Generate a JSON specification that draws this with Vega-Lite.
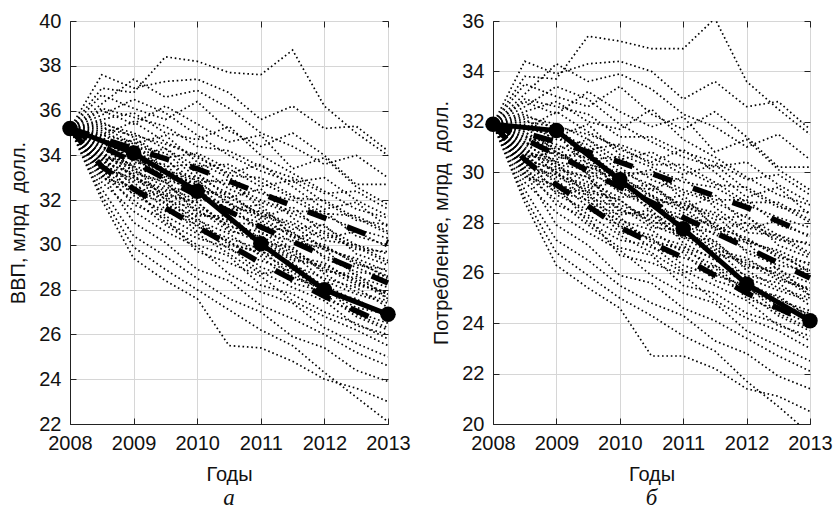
{
  "$schema": "https://vega.github.io/schema/vega-lite/v6.json",
  "padding": {"left": 8, "top": 10, "right": 0, "bottom": 0},
  "background": "white",
  "spacing": 20,
  "config": {
    "view": {"stroke": "#222", "strokeWidth": 1},
    "axis": {
      "labelFont": "Liberation Sans", "labelFontSize": 20, "labelColor": "#111",
      "titleFont": "Liberation Sans", "titleFontSize": 20, "titleFontWeight": "normal", "titleColor": "#111",
      "gridColor": "#d6d6d6", "gridWidth": 1, "tickColor": "#222", "domainColor": "#222",
      "tickSize": -6, "labelPadding": 15, "labelFlush": false, "labelOverlap": false, "labelBound": false
    },
    "title": {"font": "Liberation Serif", "fontStyle": "italic", "fontWeight": "normal", "fontSize": 23, "color": "#111"}
  },
  "datasets": {
    "simA": [
      {"i":1,"t":2008,"v":35.2},{"i":1,"t":2008.5,"v":37.0},{"i":1,"t":2009,"v":36.8},{"i":1,"t":2009.5,"v":38.4},{"i":1,"t":2010,"v":38.2},{"i":1,"t":2010.5,"v":37.7},{"i":1,"t":2011,"v":37.6},{"i":1,"t":2011.5,"v":38.7},{"i":1,"t":2012,"v":36.2},{"i":1,"t":2012.5,"v":35.0},{"i":1,"t":2013,"v":34.0},
      {"i":2,"t":2008,"v":35.2},{"i":2,"t":2008.5,"v":37.6},{"i":2,"t":2009,"v":37.0},{"i":2,"t":2009.5,"v":37.3},{"i":2,"t":2010,"v":37.4},{"i":2,"t":2010.5,"v":36.8},{"i":2,"t":2011,"v":35.6},{"i":2,"t":2011.5,"v":36.2},{"i":2,"t":2012,"v":35.2},{"i":2,"t":2012.5,"v":35.3},{"i":2,"t":2013,"v":34.2},
      {"i":3,"t":2008,"v":35.2},{"i":3,"t":2008.5,"v":36.3},{"i":3,"t":2009,"v":37.4},{"i":3,"t":2009.5,"v":36.6},{"i":3,"t":2010,"v":36.9},{"i":3,"t":2010.5,"v":36.1},{"i":3,"t":2011,"v":35.0},{"i":3,"t":2011.5,"v":34.4},{"i":3,"t":2012,"v":33.6},{"i":3,"t":2012.5,"v":34.0},{"i":3,"t":2013,"v":33.0},
      {"i":4,"t":2008,"v":35.2},{"i":4,"t":2008.5,"v":36.0},{"i":4,"t":2009,"v":35.4},{"i":4,"t":2009.5,"v":36.2},{"i":4,"t":2010,"v":35.4},{"i":4,"t":2010.5,"v":34.6},{"i":4,"t":2011,"v":34.9},{"i":4,"t":2011.5,"v":33.4},{"i":4,"t":2012,"v":33.9},{"i":4,"t":2012.5,"v":32.6},{"i":4,"t":2013,"v":31.8},
      {"i":5,"t":2008,"v":35.2},{"i":5,"t":2008.5,"v":35.6},{"i":5,"t":2009,"v":35.9},{"i":5,"t":2009.5,"v":35.0},{"i":5,"t":2010,"v":34.7},{"i":5,"t":2010.5,"v":35.3},{"i":5,"t":2011,"v":34.0},{"i":5,"t":2011.5,"v":33.2},{"i":5,"t":2012,"v":32.4},{"i":5,"t":2012.5,"v":31.6},{"i":5,"t":2013,"v":31.2},
      {"i":6,"t":2008,"v":35.2},{"i":6,"t":2008.5,"v":34.9},{"i":6,"t":2009,"v":35.5},{"i":6,"t":2009.5,"v":34.6},{"i":6,"t":2010,"v":33.9},{"i":6,"t":2010.5,"v":33.2},{"i":6,"t":2011,"v":33.6},{"i":6,"t":2011.5,"v":32.6},{"i":6,"t":2012,"v":31.6},{"i":6,"t":2012.5,"v":31.9},{"i":6,"t":2013,"v":30.8},
      {"i":7,"t":2008,"v":35.2},{"i":7,"t":2008.5,"v":35.3},{"i":7,"t":2009,"v":34.5},{"i":7,"t":2009.5,"v":34.9},{"i":7,"t":2010,"v":33.7},{"i":7,"t":2010.5,"v":33.0},{"i":7,"t":2011,"v":32.3},{"i":7,"t":2011.5,"v":32.0},{"i":7,"t":2012,"v":31.3},{"i":7,"t":2012.5,"v":30.7},{"i":7,"t":2013,"v":30.3},
      {"i":8,"t":2008,"v":35.2},{"i":8,"t":2008.5,"v":34.6},{"i":8,"t":2009,"v":34.2},{"i":8,"t":2009.5,"v":33.5},{"i":8,"t":2010,"v":33.6},{"i":8,"t":2010.5,"v":32.5},{"i":8,"t":2011,"v":31.9},{"i":8,"t":2011.5,"v":31.4},{"i":8,"t":2012,"v":30.8},{"i":8,"t":2012.5,"v":30.0},{"i":8,"t":2013,"v":29.6},
      {"i":9,"t":2008,"v":35.2},{"i":9,"t":2008.5,"v":34.3},{"i":9,"t":2009,"v":34.7},{"i":9,"t":2009.5,"v":33.8},{"i":9,"t":2010,"v":32.8},{"i":9,"t":2010.5,"v":32.9},{"i":9,"t":2011,"v":31.6},{"i":9,"t":2011.5,"v":30.7},{"i":9,"t":2012,"v":30.9},{"i":9,"t":2012.5,"v":29.6},{"i":9,"t":2013,"v":29.1},
      {"i":10,"t":2008,"v":35.2},{"i":10,"t":2008.5,"v":35.0},{"i":10,"t":2009,"v":33.9},{"i":10,"t":2009.5,"v":33.2},{"i":10,"t":2010,"v":32.9},{"i":10,"t":2010.5,"v":31.8},{"i":10,"t":2011,"v":31.3},{"i":10,"t":2011.5,"v":30.9},{"i":10,"t":2012,"v":29.8},{"i":10,"t":2012.5,"v":29.4},{"i":10,"t":2013,"v":28.8},
      {"i":11,"t":2008,"v":35.2},{"i":11,"t":2008.5,"v":34.0},{"i":11,"t":2009,"v":33.6},{"i":11,"t":2009.5,"v":33.9},{"i":11,"t":2010,"v":32.4},{"i":11,"t":2010.5,"v":31.6},{"i":11,"t":2011,"v":31.8},{"i":11,"t":2011.5,"v":30.4},{"i":11,"t":2012,"v":29.5},{"i":11,"t":2012.5,"v":29.0},{"i":11,"t":2013,"v":28.4},
      {"i":12,"t":2008,"v":35.2},{"i":12,"t":2008.5,"v":34.4},{"i":12,"t":2009,"v":33.3},{"i":12,"t":2009.5,"v":32.6},{"i":12,"t":2010,"v":32.0},{"i":12,"t":2010.5,"v":31.9},{"i":12,"t":2011,"v":30.5},{"i":12,"t":2011.5,"v":30.2},{"i":12,"t":2012,"v":29.8},{"i":12,"t":2012.5,"v":28.6},{"i":12,"t":2013,"v":28.1},
      {"i":13,"t":2008,"v":35.2},{"i":13,"t":2008.5,"v":33.8},{"i":13,"t":2009,"v":33.9},{"i":13,"t":2009.5,"v":32.9},{"i":13,"t":2010,"v":31.7},{"i":13,"t":2010.5,"v":31.0},{"i":13,"t":2011,"v":30.9},{"i":13,"t":2011.5,"v":29.8},{"i":13,"t":2012,"v":28.9},{"i":13,"t":2012.5,"v":28.5},{"i":13,"t":2013,"v":27.8},
      {"i":14,"t":2008,"v":35.2},{"i":14,"t":2008.5,"v":33.6},{"i":14,"t":2009,"v":32.9},{"i":14,"t":2009.5,"v":32.3},{"i":14,"t":2010,"v":31.9},{"i":14,"t":2010.5,"v":30.7},{"i":14,"t":2011,"v":30.1},{"i":14,"t":2011.5,"v":29.9},{"i":14,"t":2012,"v":28.7},{"i":14,"t":2012.5,"v":27.9},{"i":14,"t":2013,"v":27.5},
      {"i":15,"t":2008,"v":35.2},{"i":15,"t":2008.5,"v":34.1},{"i":15,"t":2009,"v":33.1},{"i":15,"t":2009.5,"v":31.8},{"i":15,"t":2010,"v":31.3},{"i":15,"t":2010.5,"v":31.3},{"i":15,"t":2011,"v":29.9},{"i":15,"t":2011.5,"v":29.1},{"i":15,"t":2012,"v":28.5},{"i":15,"t":2012.5,"v":28.1},{"i":15,"t":2013,"v":27.2},
      {"i":16,"t":2008,"v":35.2},{"i":16,"t":2008.5,"v":33.3},{"i":16,"t":2009,"v":32.5},{"i":16,"t":2009.5,"v":32.1},{"i":16,"t":2010,"v":30.8},{"i":16,"t":2010.5,"v":30.3},{"i":16,"t":2011,"v":29.8},{"i":16,"t":2011.5,"v":28.6},{"i":16,"t":2012,"v":28.0},{"i":16,"t":2012.5,"v":27.2},{"i":16,"t":2013,"v":26.9},
      {"i":17,"t":2008,"v":35.2},{"i":17,"t":2008.5,"v":33.9},{"i":17,"t":2009,"v":32.2},{"i":17,"t":2009.5,"v":31.5},{"i":17,"t":2010,"v":30.9},{"i":17,"t":2010.5,"v":29.8},{"i":17,"t":2011,"v":29.3},{"i":17,"t":2011.5,"v":28.8},{"i":17,"t":2012,"v":27.6},{"i":17,"t":2012.5,"v":27.0},{"i":17,"t":2013,"v":26.5},
      {"i":18,"t":2008,"v":35.2},{"i":18,"t":2008.5,"v":33.0},{"i":18,"t":2009,"v":32.6},{"i":18,"t":2009.5,"v":31.0},{"i":18,"t":2010,"v":30.3},{"i":18,"t":2010.5,"v":29.9},{"i":18,"t":2011,"v":28.8},{"i":18,"t":2011.5,"v":28.1},{"i":18,"t":2012,"v":27.5},{"i":18,"t":2012.5,"v":26.4},{"i":18,"t":2013,"v":26.0},
      {"i":19,"t":2008,"v":35.2},{"i":19,"t":2008.5,"v":33.4},{"i":19,"t":2009,"v":31.8},{"i":19,"t":2009.5,"v":31.2},{"i":19,"t":2010,"v":29.7},{"i":19,"t":2010.5,"v":29.2},{"i":19,"t":2011,"v":28.6},{"i":19,"t":2011.5,"v":27.5},{"i":19,"t":2012,"v":26.8},{"i":19,"t":2012.5,"v":26.2},{"i":19,"t":2013,"v":25.5},
      {"i":20,"t":2008,"v":35.2},{"i":20,"t":2008.5,"v":32.8},{"i":20,"t":2009,"v":31.5},{"i":20,"t":2009.5,"v":30.6},{"i":20,"t":2010,"v":29.9},{"i":20,"t":2010.5,"v":28.7},{"i":20,"t":2011,"v":27.9},{"i":20,"t":2011.5,"v":27.4},{"i":20,"t":2012,"v":26.3},{"i":20,"t":2012.5,"v":25.6},{"i":20,"t":2013,"v":25.0},
      {"i":21,"t":2008,"v":35.2},{"i":21,"t":2008.5,"v":33.2},{"i":21,"t":2009,"v":31.0},{"i":21,"t":2009.5,"v":30.1},{"i":21,"t":2010,"v":28.9},{"i":21,"t":2010.5,"v":28.4},{"i":21,"t":2011,"v":27.3},{"i":21,"t":2011.5,"v":26.7},{"i":21,"t":2012,"v":26.0},{"i":21,"t":2012.5,"v":25.2},{"i":21,"t":2013,"v":24.6},
      {"i":22,"t":2008,"v":35.2},{"i":22,"t":2008.5,"v":32.5},{"i":22,"t":2009,"v":30.4},{"i":22,"t":2009.5,"v":29.5},{"i":22,"t":2010,"v":28.5},{"i":22,"t":2010.5,"v":27.6},{"i":22,"t":2011,"v":27.0},{"i":22,"t":2011.5,"v":25.9},{"i":22,"t":2012,"v":25.4},{"i":22,"t":2012.5,"v":24.4},{"i":22,"t":2013,"v":23.9},
      {"i":23,"t":2008,"v":35.2},{"i":23,"t":2008.5,"v":32.2},{"i":23,"t":2009,"v":29.9},{"i":23,"t":2009.5,"v":28.9},{"i":23,"t":2010,"v":28.0},{"i":23,"t":2010.5,"v":27.1},{"i":23,"t":2011,"v":26.2},{"i":23,"t":2011.5,"v":25.5},{"i":23,"t":2012,"v":24.3},{"i":23,"t":2012.5,"v":23.2},{"i":23,"t":2013,"v":22.1},
      {"i":24,"t":2008,"v":35.2},{"i":24,"t":2008.5,"v":32.0},{"i":24,"t":2009,"v":29.4},{"i":24,"t":2009.5,"v":28.4},{"i":24,"t":2010,"v":27.6},{"i":24,"t":2010.5,"v":25.5},{"i":24,"t":2011,"v":25.4},{"i":24,"t":2011.5,"v":24.8},{"i":24,"t":2012,"v":24.0},{"i":24,"t":2012.5,"v":23.6},{"i":24,"t":2013,"v":23.0},
      {"i":25,"t":2008,"v":35.2},{"i":25,"t":2008.5,"v":36.7},{"i":25,"t":2009,"v":36.1},{"i":25,"t":2009.5,"v":35.6},{"i":25,"t":2010,"v":36.4},{"i":25,"t":2010.5,"v":35.1},{"i":25,"t":2011,"v":34.4},{"i":25,"t":2011.5,"v":35.0},{"i":25,"t":2012,"v":34.0},{"i":25,"t":2012.5,"v":32.7},{"i":25,"t":2013,"v":32.7},
      {"i":26,"t":2008,"v":35.2},{"i":26,"t":2008.5,"v":35.8},{"i":26,"t":2009,"v":36.5},{"i":26,"t":2009.5,"v":35.9},{"i":26,"t":2010,"v":34.9},{"i":26,"t":2010.5,"v":34.0},{"i":26,"t":2011,"v":33.3},{"i":26,"t":2011.5,"v":32.8},{"i":26,"t":2012,"v":33.0},{"i":26,"t":2012.5,"v":32.0},{"i":26,"t":2013,"v":31.3},
      {"i":27,"t":2008,"v":35.2},{"i":27,"t":2008.5,"v":34.8},{"i":27,"t":2009,"v":34.0},{"i":27,"t":2009.5,"v":34.3},{"i":27,"t":2010,"v":33.2},{"i":27,"t":2010.5,"v":32.1},{"i":27,"t":2011,"v":32.5},{"i":27,"t":2011.5,"v":31.2},{"i":27,"t":2012,"v":30.3},{"i":27,"t":2012.5,"v":30.6},{"i":27,"t":2013,"v":29.9},
      {"i":28,"t":2008,"v":35.2},{"i":28,"t":2008.5,"v":34.2},{"i":28,"t":2009,"v":33.0},{"i":28,"t":2009.5,"v":32.4},{"i":28,"t":2010,"v":32.6},{"i":28,"t":2010.5,"v":31.2},{"i":28,"t":2011,"v":30.3},{"i":28,"t":2011.5,"v":29.5},{"i":28,"t":2012,"v":29.2},{"i":28,"t":2012.5,"v":28.3},{"i":28,"t":2013,"v":27.8},
      {"i":29,"t":2008,"v":35.2},{"i":29,"t":2008.5,"v":33.5},{"i":29,"t":2009,"v":32.8},{"i":29,"t":2009.5,"v":31.6},{"i":29,"t":2010,"v":31.1},{"i":29,"t":2010.5,"v":30.5},{"i":29,"t":2011,"v":29.5},{"i":29,"t":2011.5,"v":28.3},{"i":29,"t":2012,"v":27.9},{"i":29,"t":2012.5,"v":27.6},{"i":29,"t":2013,"v":26.7},
      {"i":30,"t":2008,"v":35.2},{"i":30,"t":2008.5,"v":33.1},{"i":30,"t":2009,"v":32.0},{"i":30,"t":2009.5,"v":30.9},{"i":30,"t":2010,"v":30.0},{"i":30,"t":2010.5,"v":29.5},{"i":30,"t":2011,"v":28.2},{"i":30,"t":2011.5,"v":27.8},{"i":30,"t":2012,"v":27.0},{"i":30,"t":2012.5,"v":26.5},{"i":30,"t":2013,"v":25.8},
      {"i":31,"t":2008,"v":35.2},{"i":31,"t":2008.5,"v":34.7},{"i":31,"t":2009,"v":33.4},{"i":31,"t":2009.5,"v":33.1},{"i":31,"t":2010,"v":32.2},{"i":31,"t":2010.5,"v":31.4},{"i":31,"t":2011,"v":31.0},{"i":31,"t":2011.5,"v":30.1},{"i":31,"t":2012,"v":29.9},{"i":31,"t":2012.5,"v":29.2},{"i":31,"t":2013,"v":28.6},
      {"i":32,"t":2008,"v":35.2},{"i":32,"t":2008.5,"v":35.5},{"i":32,"t":2009,"v":34.8},{"i":32,"t":2009.5,"v":33.9},{"i":32,"t":2010,"v":34.1},{"i":32,"t":2010.5,"v":33.4},{"i":32,"t":2011,"v":32.6},{"i":32,"t":2011.5,"v":32.9},{"i":32,"t":2012,"v":31.9},{"i":32,"t":2012.5,"v":31.1},{"i":32,"t":2013,"v":30.9},
      {"i":33,"t":2008,"v":35.2},{"i":33,"t":2008.5,"v":33.7},{"i":33,"t":2009,"v":33.2},{"i":33,"t":2009.5,"v":32.8},{"i":33,"t":2010,"v":31.5},{"i":33,"t":2010.5,"v":30.9},{"i":33,"t":2011,"v":30.2},{"i":33,"t":2011.5,"v":29.4},{"i":33,"t":2012,"v":29.0},{"i":33,"t":2012.5,"v":28.2},{"i":33,"t":2013,"v":27.9},
      {"i":34,"t":2008,"v":35.2},{"i":34,"t":2008.5,"v":34.5},{"i":34,"t":2009,"v":34.1},{"i":34,"t":2009.5,"v":32.9},{"i":34,"t":2010,"v":32.5},{"i":34,"t":2010.5,"v":32.1},{"i":34,"t":2011,"v":31.4},{"i":34,"t":2011.5,"v":31.0},{"i":34,"t":2012,"v":30.2},{"i":34,"t":2012.5,"v":30.0},{"i":34,"t":2013,"v":29.3},
      {"i":35,"t":2008,"v":35.2},{"i":35,"t":2008.5,"v":33.9},{"i":35,"t":2009,"v":33.5},{"i":35,"t":2009.5,"v":32.0},{"i":35,"t":2010,"v":31.6},{"i":35,"t":2010.5,"v":30.6},{"i":35,"t":2011,"v":30.4},{"i":35,"t":2011.5,"v":29.6},{"i":35,"t":2012,"v":28.4},{"i":35,"t":2012.5,"v":27.8},{"i":35,"t":2013,"v":27.4},
      {"i":36,"t":2008,"v":35.2},{"i":36,"t":2008.5,"v":35.1},{"i":36,"t":2009,"v":34.4},{"i":36,"t":2009.5,"v":34.1},{"i":36,"t":2010,"v":33.0},{"i":36,"t":2010.5,"v":32.7},{"i":36,"t":2011,"v":32.0},{"i":36,"t":2011.5,"v":31.5},{"i":36,"t":2012,"v":31.5},{"i":36,"t":2012.5,"v":30.4},{"i":36,"t":2013,"v":30.0},
      {"i":37,"t":2008,"v":35.2},{"i":37,"t":2008.5,"v":34.0},{"i":37,"t":2009,"v":32.6},{"i":37,"t":2009.5,"v":32.2},{"i":37,"t":2010,"v":31.0},{"i":37,"t":2010.5,"v":30.1},{"i":37,"t":2011,"v":29.6},{"i":37,"t":2011.5,"v":28.9},{"i":37,"t":2012,"v":28.2},{"i":37,"t":2012.5,"v":27.5},{"i":37,"t":2013,"v":26.8},
      {"i":38,"t":2008,"v":35.2},{"i":38,"t":2008.5,"v":34.9},{"i":38,"t":2009,"v":34.6},{"i":38,"t":2009.5,"v":33.3},{"i":38,"t":2010,"v":33.0},{"i":38,"t":2010.5,"v":32.3},{"i":38,"t":2011,"v":31.2},{"i":38,"t":2011.5,"v":31.7},{"i":38,"t":2012,"v":30.5},{"i":38,"t":2012.5,"v":29.8},{"i":38,"t":2013,"v":29.7},
      {"i":39,"t":2008,"v":35.2},{"i":39,"t":2008.5,"v":33.4},{"i":39,"t":2009,"v":33.0},{"i":39,"t":2009.5,"v":32.5},{"i":39,"t":2010,"v":31.2},{"i":39,"t":2010.5,"v":30.0},{"i":39,"t":2011,"v":29.7},{"i":39,"t":2011.5,"v":29.2},{"i":39,"t":2012,"v":28.1},{"i":39,"t":2012.5,"v":27.4},{"i":39,"t":2013,"v":27.0},
      {"i":40,"t":2008,"v":35.2},{"i":40,"t":2008.5,"v":34.4},{"i":40,"t":2009,"v":33.8},{"i":40,"t":2009.5,"v":33.6},{"i":40,"t":2010,"v":32.2},{"i":40,"t":2010.5,"v":31.6},{"i":40,"t":2011,"v":31.5},{"i":40,"t":2011.5,"v":30.5},{"i":40,"t":2012,"v":29.9},{"i":40,"t":2012.5,"v":29.3},{"i":40,"t":2013,"v":28.5},
      {"i":41,"t":2008,"v":35.2},{"i":41,"t":2008.5,"v":35.4},{"i":41,"t":2009,"v":35.0},{"i":41,"t":2009.5,"v":34.3},{"i":41,"t":2010,"v":33.5},{"i":41,"t":2010.5,"v":33.6},{"i":41,"t":2011,"v":32.8},{"i":41,"t":2011.5,"v":32.1},{"i":41,"t":2012,"v":32.0},{"i":41,"t":2012.5,"v":31.2},{"i":41,"t":2013,"v":30.5},
      {"i":42,"t":2008,"v":35.2},{"i":42,"t":2008.5,"v":33.2},{"i":42,"t":2009,"v":32.3},{"i":42,"t":2009.5,"v":31.9},{"i":42,"t":2010,"v":30.6},{"i":42,"t":2010.5,"v":30.2},{"i":42,"t":2011,"v":29.0},{"i":42,"t":2011.5,"v":28.5},{"i":42,"t":2012,"v":28.1},{"i":42,"t":2012.5,"v":26.9},{"i":42,"t":2013,"v":26.3},
      {"i":43,"t":2008,"v":35.2},{"i":43,"t":2008.5,"v":34.3},{"i":43,"t":2009,"v":33.5},{"i":43,"t":2009.5,"v":33.2},{"i":43,"t":2010,"v":32.7},{"i":43,"t":2010.5,"v":31.5},{"i":43,"t":2011,"v":30.8},{"i":43,"t":2011.5,"v":30.6},{"i":43,"t":2012,"v":29.4},{"i":43,"t":2012.5,"v":28.8},{"i":43,"t":2013,"v":28.6},
      {"i":44,"t":2008,"v":35.2},{"i":44,"t":2008.5,"v":34.8},{"i":44,"t":2009,"v":33.7},{"i":44,"t":2009.5,"v":33.4},{"i":44,"t":2010,"v":32.4},{"i":44,"t":2010.5,"v":32.3},{"i":44,"t":2011,"v":31.3},{"i":44,"t":2011.5,"v":30.3},{"i":44,"t":2012,"v":30.6},{"i":44,"t":2012.5,"v":29.9},{"i":44,"t":2013,"v":29.2},
      {"i":45,"t":2008,"v":35.2},{"i":45,"t":2008.5,"v":33.8},{"i":45,"t":2009,"v":33.1},{"i":45,"t":2009.5,"v":32.2},{"i":45,"t":2010,"v":31.9},{"i":45,"t":2010.5,"v":30.8},{"i":45,"t":2011,"v":30.6},{"i":45,"t":2011.5,"v":29.7},{"i":45,"t":2012,"v":28.8},{"i":45,"t":2012.5,"v":28.7},{"i":45,"t":2013,"v":27.6},
      {"i":46,"t":2008,"v":35.2},{"i":46,"t":2008.5,"v":36.1},{"i":46,"t":2009,"v":35.7},{"i":46,"t":2009.5,"v":35.3},{"i":46,"t":2010,"v":34.4},{"i":46,"t":2010.5,"v":34.2},{"i":46,"t":2011,"v":33.5},{"i":46,"t":2011.5,"v":33.0},{"i":46,"t":2012,"v":32.3},{"i":46,"t":2012.5,"v":32.4},{"i":46,"t":2013,"v":31.6},
      {"i":47,"t":2008,"v":35.2},{"i":47,"t":2008.5,"v":33.6},{"i":47,"t":2009,"v":32.4},{"i":47,"t":2009.5,"v":31.3},{"i":47,"t":2010,"v":30.5},{"i":47,"t":2010.5,"v":29.6},{"i":47,"t":2011,"v":28.7},{"i":47,"t":2011.5,"v":28.9},{"i":47,"t":2012,"v":27.8},{"i":47,"t":2012.5,"v":26.8},{"i":47,"t":2013,"v":26.2},
      {"i":48,"t":2008,"v":35.2},{"i":48,"t":2008.5,"v":34.6},{"i":48,"t":2009,"v":33.9},{"i":48,"t":2009.5,"v":33.0},{"i":48,"t":2010,"v":32.8},{"i":48,"t":2010.5,"v":31.9},{"i":48,"t":2011,"v":31.1},{"i":48,"t":2011.5,"v":30.4},{"i":48,"t":2012,"v":30.0},{"i":48,"t":2012.5,"v":29.1},{"i":48,"t":2013,"v":28.9},
      {"i":49,"t":2008,"v":35.2},{"i":49,"t":2008.5,"v":35.2},{"i":49,"t":2009,"v":34.9},{"i":49,"t":2009.5,"v":34.5},{"i":49,"t":2010,"v":34.0},{"i":49,"t":2010.5,"v":33.1},{"i":49,"t":2011,"v":33.0},{"i":49,"t":2011.5,"v":32.2},{"i":49,"t":2012,"v":31.4},{"i":49,"t":2012.5,"v":31.3},{"i":49,"t":2013,"v":30.6},
      {"i":50,"t":2008,"v":35.2},{"i":50,"t":2008.5,"v":34.1},{"i":50,"t":2009,"v":33.3},{"i":50,"t":2009.5,"v":32.8},{"i":50,"t":2010,"v":31.4},{"i":50,"t":2010.5,"v":31.1},{"i":50,"t":2011,"v":30.1},{"i":50,"t":2011.5,"v":29.3},{"i":50,"t":2012,"v":29.1},{"i":50,"t":2012.5,"v":28.4},{"i":50,"t":2013,"v":27.6}
    ],
    "simB": [
      {"i":1,"t":2008,"v":31.9},{"i":1,"t":2008.5,"v":33.8},{"i":1,"t":2009,"v":33.7},{"i":1,"t":2009.5,"v":35.4},{"i":1,"t":2010,"v":35.2},{"i":1,"t":2010.5,"v":34.9},{"i":1,"t":2011,"v":34.9},{"i":1,"t":2011.5,"v":36.1},{"i":1,"t":2012,"v":33.6},{"i":1,"t":2012.5,"v":32.5},{"i":1,"t":2013,"v":31.5},
      {"i":2,"t":2008,"v":31.9},{"i":2,"t":2008.5,"v":34.4},{"i":2,"t":2009,"v":33.9},{"i":2,"t":2009.5,"v":34.3},{"i":2,"t":2010,"v":34.4},{"i":2,"t":2010.5,"v":34.0},{"i":2,"t":2011,"v":32.9},{"i":2,"t":2011.5,"v":33.6},{"i":2,"t":2012,"v":32.6},{"i":2,"t":2012.5,"v":32.8},{"i":2,"t":2013,"v":31.7},
      {"i":3,"t":2008,"v":31.9},{"i":3,"t":2008.5,"v":33.1},{"i":3,"t":2009,"v":34.3},{"i":3,"t":2009.5,"v":33.6},{"i":3,"t":2010,"v":33.9},{"i":3,"t":2010.5,"v":33.3},{"i":3,"t":2011,"v":32.3},{"i":3,"t":2011.5,"v":31.8},{"i":3,"t":2012,"v":31.0},{"i":3,"t":2012.5,"v":31.5},{"i":3,"t":2013,"v":30.5},
      {"i":4,"t":2008,"v":31.9},{"i":4,"t":2008.5,"v":32.8},{"i":4,"t":2009,"v":32.3},{"i":4,"t":2009.5,"v":33.2},{"i":4,"t":2010,"v":32.4},{"i":4,"t":2010.5,"v":31.8},{"i":4,"t":2011,"v":32.2},{"i":4,"t":2011.5,"v":30.8},{"i":4,"t":2012,"v":31.3},{"i":4,"t":2012.5,"v":30.1},{"i":4,"t":2013,"v":29.3},
      {"i":5,"t":2008,"v":31.9},{"i":5,"t":2008.5,"v":32.4},{"i":5,"t":2009,"v":32.8},{"i":5,"t":2009.5,"v":32.0},{"i":5,"t":2010,"v":31.7},{"i":5,"t":2010.5,"v":32.5},{"i":5,"t":2011,"v":31.3},{"i":5,"t":2011.5,"v":30.6},{"i":5,"t":2012,"v":29.8},{"i":5,"t":2012.5,"v":29.1},{"i":5,"t":2013,"v":28.7},
      {"i":6,"t":2008,"v":31.9},{"i":6,"t":2008.5,"v":31.7},{"i":6,"t":2009,"v":32.4},{"i":6,"t":2009.5,"v":31.6},{"i":6,"t":2010,"v":30.9},{"i":6,"t":2010.5,"v":30.4},{"i":6,"t":2011,"v":30.9},{"i":6,"t":2011.5,"v":30.0},{"i":6,"t":2012,"v":29.0},{"i":6,"t":2012.5,"v":29.4},{"i":6,"t":2013,"v":28.3},
      {"i":7,"t":2008,"v":31.9},{"i":7,"t":2008.5,"v":32.1},{"i":7,"t":2009,"v":31.4},{"i":7,"t":2009.5,"v":31.9},{"i":7,"t":2010,"v":30.7},{"i":7,"t":2010.5,"v":30.2},{"i":7,"t":2011,"v":29.6},{"i":7,"t":2011.5,"v":29.4},{"i":7,"t":2012,"v":28.7},{"i":7,"t":2012.5,"v":28.2},{"i":7,"t":2013,"v":27.8},
      {"i":8,"t":2008,"v":31.9},{"i":8,"t":2008.5,"v":31.4},{"i":8,"t":2009,"v":31.1},{"i":8,"t":2009.5,"v":30.5},{"i":8,"t":2010,"v":30.6},{"i":8,"t":2010.5,"v":29.7},{"i":8,"t":2011,"v":29.2},{"i":8,"t":2011.5,"v":28.8},{"i":8,"t":2012,"v":28.2},{"i":8,"t":2012.5,"v":27.5},{"i":8,"t":2013,"v":27.1},
      {"i":9,"t":2008,"v":31.9},{"i":9,"t":2008.5,"v":31.1},{"i":9,"t":2009,"v":31.6},{"i":9,"t":2009.5,"v":30.8},{"i":9,"t":2010,"v":29.8},{"i":9,"t":2010.5,"v":30.1},{"i":9,"t":2011,"v":28.9},{"i":9,"t":2011.5,"v":28.1},{"i":9,"t":2012,"v":28.3},{"i":9,"t":2012.5,"v":27.1},{"i":9,"t":2013,"v":26.6},
      {"i":10,"t":2008,"v":31.9},{"i":10,"t":2008.5,"v":31.8},{"i":10,"t":2009,"v":30.8},{"i":10,"t":2009.5,"v":30.2},{"i":10,"t":2010,"v":29.9},{"i":10,"t":2010.5,"v":29.0},{"i":10,"t":2011,"v":28.6},{"i":10,"t":2011.5,"v":28.3},{"i":10,"t":2012,"v":27.2},{"i":10,"t":2012.5,"v":26.9},{"i":10,"t":2013,"v":26.3},
      {"i":11,"t":2008,"v":31.9},{"i":11,"t":2008.5,"v":30.8},{"i":11,"t":2009,"v":30.5},{"i":11,"t":2009.5,"v":30.9},{"i":11,"t":2010,"v":29.4},{"i":11,"t":2010.5,"v":28.8},{"i":11,"t":2011,"v":29.1},{"i":11,"t":2011.5,"v":27.8},{"i":11,"t":2012,"v":26.9},{"i":11,"t":2012.5,"v":26.5},{"i":11,"t":2013,"v":25.9},
      {"i":12,"t":2008,"v":31.9},{"i":12,"t":2008.5,"v":31.2},{"i":12,"t":2009,"v":30.2},{"i":12,"t":2009.5,"v":29.6},{"i":12,"t":2010,"v":29.0},{"i":12,"t":2010.5,"v":29.1},{"i":12,"t":2011,"v":27.8},{"i":12,"t":2011.5,"v":27.6},{"i":12,"t":2012,"v":27.2},{"i":12,"t":2012.5,"v":26.1},{"i":12,"t":2013,"v":25.6},
      {"i":13,"t":2008,"v":31.9},{"i":13,"t":2008.5,"v":30.6},{"i":13,"t":2009,"v":30.8},{"i":13,"t":2009.5,"v":29.9},{"i":13,"t":2010,"v":28.7},{"i":13,"t":2010.5,"v":28.2},{"i":13,"t":2011,"v":28.2},{"i":13,"t":2011.5,"v":27.2},{"i":13,"t":2012,"v":26.3},{"i":13,"t":2012.5,"v":26.0},{"i":13,"t":2013,"v":25.3},
      {"i":14,"t":2008,"v":31.9},{"i":14,"t":2008.5,"v":30.4},{"i":14,"t":2009,"v":29.8},{"i":14,"t":2009.5,"v":29.3},{"i":14,"t":2010,"v":28.9},{"i":14,"t":2010.5,"v":27.9},{"i":14,"t":2011,"v":27.4},{"i":14,"t":2011.5,"v":27.3},{"i":14,"t":2012,"v":26.1},{"i":14,"t":2012.5,"v":25.4},{"i":14,"t":2013,"v":25.0},
      {"i":15,"t":2008,"v":31.9},{"i":15,"t":2008.5,"v":30.9},{"i":15,"t":2009,"v":30.0},{"i":15,"t":2009.5,"v":28.8},{"i":15,"t":2010,"v":28.3},{"i":15,"t":2010.5,"v":28.5},{"i":15,"t":2011,"v":27.2},{"i":15,"t":2011.5,"v":26.5},{"i":15,"t":2012,"v":25.9},{"i":15,"t":2012.5,"v":25.6},{"i":15,"t":2013,"v":24.7},
      {"i":16,"t":2008,"v":31.9},{"i":16,"t":2008.5,"v":30.1},{"i":16,"t":2009,"v":29.4},{"i":16,"t":2009.5,"v":29.1},{"i":16,"t":2010,"v":27.8},{"i":16,"t":2010.5,"v":27.5},{"i":16,"t":2011,"v":27.1},{"i":16,"t":2011.5,"v":26.0},{"i":16,"t":2012,"v":25.4},{"i":16,"t":2012.5,"v":24.7},{"i":16,"t":2013,"v":24.4},
      {"i":17,"t":2008,"v":31.9},{"i":17,"t":2008.5,"v":30.7},{"i":17,"t":2009,"v":29.1},{"i":17,"t":2009.5,"v":28.5},{"i":17,"t":2010,"v":27.9},{"i":17,"t":2010.5,"v":27.0},{"i":17,"t":2011,"v":26.6},{"i":17,"t":2011.5,"v":26.2},{"i":17,"t":2012,"v":25.0},{"i":17,"t":2012.5,"v":24.5},{"i":17,"t":2013,"v":24.0},
      {"i":18,"t":2008,"v":31.9},{"i":18,"t":2008.5,"v":29.8},{"i":18,"t":2009,"v":29.5},{"i":18,"t":2009.5,"v":28.0},{"i":18,"t":2010,"v":27.3},{"i":18,"t":2010.5,"v":27.1},{"i":18,"t":2011,"v":26.1},{"i":18,"t":2011.5,"v":25.5},{"i":18,"t":2012,"v":24.9},{"i":18,"t":2012.5,"v":23.9},{"i":18,"t":2013,"v":23.5},
      {"i":19,"t":2008,"v":31.9},{"i":19,"t":2008.5,"v":30.2},{"i":19,"t":2009,"v":28.7},{"i":19,"t":2009.5,"v":28.2},{"i":19,"t":2010,"v":26.7},{"i":19,"t":2010.5,"v":26.4},{"i":19,"t":2011,"v":25.9},{"i":19,"t":2011.5,"v":24.9},{"i":19,"t":2012,"v":24.2},{"i":19,"t":2012.5,"v":23.7},{"i":19,"t":2013,"v":23.0},
      {"i":20,"t":2008,"v":31.9},{"i":20,"t":2008.5,"v":29.6},{"i":20,"t":2009,"v":28.4},{"i":20,"t":2009.5,"v":27.6},{"i":20,"t":2010,"v":26.9},{"i":20,"t":2010.5,"v":25.9},{"i":20,"t":2011,"v":25.2},{"i":20,"t":2011.5,"v":24.8},{"i":20,"t":2012,"v":23.7},{"i":20,"t":2012.5,"v":23.1},{"i":20,"t":2013,"v":22.5},
      {"i":21,"t":2008,"v":31.9},{"i":21,"t":2008.5,"v":30.0},{"i":21,"t":2009,"v":27.9},{"i":21,"t":2009.5,"v":27.1},{"i":21,"t":2010,"v":25.9},{"i":21,"t":2010.5,"v":25.6},{"i":21,"t":2011,"v":24.6},{"i":21,"t":2011.5,"v":24.1},{"i":21,"t":2012,"v":23.4},{"i":21,"t":2012.5,"v":22.7},{"i":21,"t":2013,"v":22.1},
      {"i":22,"t":2008,"v":31.9},{"i":22,"t":2008.5,"v":29.3},{"i":22,"t":2009,"v":27.3},{"i":22,"t":2009.5,"v":26.5},{"i":22,"t":2010,"v":25.5},{"i":22,"t":2010.5,"v":24.8},{"i":22,"t":2011,"v":24.3},{"i":22,"t":2011.5,"v":23.3},{"i":22,"t":2012,"v":22.8},{"i":22,"t":2012.5,"v":21.9},{"i":22,"t":2013,"v":21.4},
      {"i":23,"t":2008,"v":31.9},{"i":23,"t":2008.5,"v":29.0},{"i":23,"t":2009,"v":26.8},{"i":23,"t":2009.5,"v":25.9},{"i":23,"t":2010,"v":25.0},{"i":23,"t":2010.5,"v":24.3},{"i":23,"t":2011,"v":23.5},{"i":23,"t":2011.5,"v":22.9},{"i":23,"t":2012,"v":21.7},{"i":23,"t":2012.5,"v":20.7},{"i":23,"t":2013,"v":19.6},
      {"i":24,"t":2008,"v":31.9},{"i":24,"t":2008.5,"v":28.8},{"i":24,"t":2009,"v":26.3},{"i":24,"t":2009.5,"v":25.4},{"i":24,"t":2010,"v":24.6},{"i":24,"t":2010.5,"v":22.7},{"i":24,"t":2011,"v":22.7},{"i":24,"t":2011.5,"v":22.2},{"i":24,"t":2012,"v":21.4},{"i":24,"t":2012.5,"v":21.1},{"i":24,"t":2013,"v":20.5},
      {"i":25,"t":2008,"v":31.9},{"i":25,"t":2008.5,"v":33.5},{"i":25,"t":2009,"v":33.0},{"i":25,"t":2009.5,"v":32.6},{"i":25,"t":2010,"v":33.4},{"i":25,"t":2010.5,"v":32.3},{"i":25,"t":2011,"v":31.7},{"i":25,"t":2011.5,"v":32.4},{"i":25,"t":2012,"v":31.4},{"i":25,"t":2012.5,"v":30.2},{"i":25,"t":2013,"v":30.2},
      {"i":26,"t":2008,"v":31.9},{"i":26,"t":2008.5,"v":32.6},{"i":26,"t":2009,"v":33.4},{"i":26,"t":2009.5,"v":32.9},{"i":26,"t":2010,"v":31.9},{"i":26,"t":2010.5,"v":31.2},{"i":26,"t":2011,"v":30.6},{"i":26,"t":2011.5,"v":30.2},{"i":26,"t":2012,"v":30.4},{"i":26,"t":2012.5,"v":29.5},{"i":26,"t":2013,"v":28.8},
      {"i":27,"t":2008,"v":31.9},{"i":27,"t":2008.5,"v":31.6},{"i":27,"t":2009,"v":30.9},{"i":27,"t":2009.5,"v":31.3},{"i":27,"t":2010,"v":30.2},{"i":27,"t":2010.5,"v":29.3},{"i":27,"t":2011,"v":29.8},{"i":27,"t":2011.5,"v":28.6},{"i":27,"t":2012,"v":27.7},{"i":27,"t":2012.5,"v":28.1},{"i":27,"t":2013,"v":27.4},
      {"i":28,"t":2008,"v":31.9},{"i":28,"t":2008.5,"v":31.0},{"i":28,"t":2009,"v":29.9},{"i":28,"t":2009.5,"v":29.4},{"i":28,"t":2010,"v":29.6},{"i":28,"t":2010.5,"v":28.4},{"i":28,"t":2011,"v":27.6},{"i":28,"t":2011.5,"v":26.9},{"i":28,"t":2012,"v":26.6},{"i":28,"t":2012.5,"v":25.8},{"i":28,"t":2013,"v":25.3},
      {"i":29,"t":2008,"v":31.9},{"i":29,"t":2008.5,"v":30.3},{"i":29,"t":2009,"v":29.7},{"i":29,"t":2009.5,"v":28.6},{"i":29,"t":2010,"v":28.1},{"i":29,"t":2010.5,"v":27.7},{"i":29,"t":2011,"v":26.8},{"i":29,"t":2011.5,"v":25.7},{"i":29,"t":2012,"v":25.3},{"i":29,"t":2012.5,"v":25.1},{"i":29,"t":2013,"v":24.2},
      {"i":30,"t":2008,"v":31.9},{"i":30,"t":2008.5,"v":29.9},{"i":30,"t":2009,"v":28.9},{"i":30,"t":2009.5,"v":27.9},{"i":30,"t":2010,"v":27.0},{"i":30,"t":2010.5,"v":26.7},{"i":30,"t":2011,"v":25.5},{"i":30,"t":2011.5,"v":25.2},{"i":30,"t":2012,"v":24.4},{"i":30,"t":2012.5,"v":24.0},{"i":30,"t":2013,"v":23.3},
      {"i":31,"t":2008,"v":31.9},{"i":31,"t":2008.5,"v":31.5},{"i":31,"t":2009,"v":30.3},{"i":31,"t":2009.5,"v":30.1},{"i":31,"t":2010,"v":29.2},{"i":31,"t":2010.5,"v":28.6},{"i":31,"t":2011,"v":28.3},{"i":31,"t":2011.5,"v":27.5},{"i":31,"t":2012,"v":27.3},{"i":31,"t":2012.5,"v":26.7},{"i":31,"t":2013,"v":26.1},
      {"i":32,"t":2008,"v":31.9},{"i":32,"t":2008.5,"v":32.3},{"i":32,"t":2009,"v":31.7},{"i":32,"t":2009.5,"v":30.9},{"i":32,"t":2010,"v":31.1},{"i":32,"t":2010.5,"v":30.6},{"i":32,"t":2011,"v":29.9},{"i":32,"t":2011.5,"v":30.3},{"i":32,"t":2012,"v":29.3},{"i":32,"t":2012.5,"v":28.6},{"i":32,"t":2013,"v":28.4},
      {"i":33,"t":2008,"v":31.9},{"i":33,"t":2008.5,"v":30.5},{"i":33,"t":2009,"v":30.1},{"i":33,"t":2009.5,"v":29.8},{"i":33,"t":2010,"v":28.5},{"i":33,"t":2010.5,"v":28.1},{"i":33,"t":2011,"v":27.5},{"i":33,"t":2011.5,"v":26.8},{"i":33,"t":2012,"v":26.4},{"i":33,"t":2012.5,"v":25.7},{"i":33,"t":2013,"v":25.4},
      {"i":34,"t":2008,"v":31.9},{"i":34,"t":2008.5,"v":31.3},{"i":34,"t":2009,"v":31.0},{"i":34,"t":2009.5,"v":29.9},{"i":34,"t":2010,"v":29.5},{"i":34,"t":2010.5,"v":29.3},{"i":34,"t":2011,"v":28.7},{"i":34,"t":2011.5,"v":28.4},{"i":34,"t":2012,"v":27.6},{"i":34,"t":2012.5,"v":27.5},{"i":34,"t":2013,"v":26.8},
      {"i":35,"t":2008,"v":31.9},{"i":35,"t":2008.5,"v":30.7},{"i":35,"t":2009,"v":30.4},{"i":35,"t":2009.5,"v":29.0},{"i":35,"t":2010,"v":28.6},{"i":35,"t":2010.5,"v":27.8},{"i":35,"t":2011,"v":27.7},{"i":35,"t":2011.5,"v":27.0},{"i":35,"t":2012,"v":25.8},{"i":35,"t":2012.5,"v":25.3},{"i":35,"t":2013,"v":24.9},
      {"i":36,"t":2008,"v":31.9},{"i":36,"t":2008.5,"v":31.9},{"i":36,"t":2009,"v":31.3},{"i":36,"t":2009.5,"v":31.1},{"i":36,"t":2010,"v":30.0},{"i":36,"t":2010.5,"v":29.9},{"i":36,"t":2011,"v":29.3},{"i":36,"t":2011.5,"v":28.9},{"i":36,"t":2012,"v":28.9},{"i":36,"t":2012.5,"v":27.9},{"i":36,"t":2013,"v":27.5},
      {"i":37,"t":2008,"v":31.9},{"i":37,"t":2008.5,"v":30.8},{"i":37,"t":2009,"v":29.5},{"i":37,"t":2009.5,"v":29.2},{"i":37,"t":2010,"v":28.0},{"i":37,"t":2010.5,"v":27.3},{"i":37,"t":2011,"v":26.9},{"i":37,"t":2011.5,"v":26.3},{"i":37,"t":2012,"v":25.6},{"i":37,"t":2012.5,"v":25.0},{"i":37,"t":2013,"v":24.3},
      {"i":38,"t":2008,"v":31.9},{"i":38,"t":2008.5,"v":31.7},{"i":38,"t":2009,"v":31.5},{"i":38,"t":2009.5,"v":30.3},{"i":38,"t":2010,"v":30.0},{"i":38,"t":2010.5,"v":29.5},{"i":38,"t":2011,"v":28.5},{"i":38,"t":2011.5,"v":29.1},{"i":38,"t":2012,"v":27.9},{"i":38,"t":2012.5,"v":27.3},{"i":38,"t":2013,"v":27.2},
      {"i":39,"t":2008,"v":31.9},{"i":39,"t":2008.5,"v":30.2},{"i":39,"t":2009,"v":29.9},{"i":39,"t":2009.5,"v":29.5},{"i":39,"t":2010,"v":28.2},{"i":39,"t":2010.5,"v":27.2},{"i":39,"t":2011,"v":27.0},{"i":39,"t":2011.5,"v":26.6},{"i":39,"t":2012,"v":25.5},{"i":39,"t":2012.5,"v":24.9},{"i":39,"t":2013,"v":24.5},
      {"i":40,"t":2008,"v":31.9},{"i":40,"t":2008.5,"v":31.2},{"i":40,"t":2009,"v":30.7},{"i":40,"t":2009.5,"v":30.6},{"i":40,"t":2010,"v":29.2},{"i":40,"t":2010.5,"v":28.8},{"i":40,"t":2011,"v":28.8},{"i":40,"t":2011.5,"v":27.9},{"i":40,"t":2012,"v":27.3},{"i":40,"t":2012.5,"v":26.8},{"i":40,"t":2013,"v":26.0},
      {"i":41,"t":2008,"v":31.9},{"i":41,"t":2008.5,"v":32.2},{"i":41,"t":2009,"v":31.9},{"i":41,"t":2009.5,"v":31.3},{"i":41,"t":2010,"v":30.5},{"i":41,"t":2010.5,"v":30.8},{"i":41,"t":2011,"v":30.1},{"i":41,"t":2011.5,"v":29.5},{"i":41,"t":2012,"v":29.4},{"i":41,"t":2012.5,"v":28.7},{"i":41,"t":2013,"v":28.0},
      {"i":42,"t":2008,"v":31.9},{"i":42,"t":2008.5,"v":30.0},{"i":42,"t":2009,"v":29.2},{"i":42,"t":2009.5,"v":28.9},{"i":42,"t":2010,"v":27.6},{"i":42,"t":2010.5,"v":27.4},{"i":42,"t":2011,"v":26.3},{"i":42,"t":2011.5,"v":25.9},{"i":42,"t":2012,"v":25.5},{"i":42,"t":2012.5,"v":24.4},{"i":42,"t":2013,"v":23.8},
      {"i":43,"t":2008,"v":31.9},{"i":43,"t":2008.5,"v":31.1},{"i":43,"t":2009,"v":30.4},{"i":43,"t":2009.5,"v":30.2},{"i":43,"t":2010,"v":29.7},{"i":43,"t":2010.5,"v":28.7},{"i":43,"t":2011,"v":28.1},{"i":43,"t":2011.5,"v":28.0},{"i":43,"t":2012,"v":26.8},{"i":43,"t":2012.5,"v":26.3},{"i":43,"t":2013,"v":26.1},
      {"i":44,"t":2008,"v":31.9},{"i":44,"t":2008.5,"v":31.6},{"i":44,"t":2009,"v":30.6},{"i":44,"t":2009.5,"v":30.4},{"i":44,"t":2010,"v":29.4},{"i":44,"t":2010.5,"v":29.5},{"i":44,"t":2011,"v":28.6},{"i":44,"t":2011.5,"v":27.7},{"i":44,"t":2012,"v":28.0},{"i":44,"t":2012.5,"v":27.4},{"i":44,"t":2013,"v":26.7},
      {"i":45,"t":2008,"v":31.9},{"i":45,"t":2008.5,"v":30.6},{"i":45,"t":2009,"v":30.0},{"i":45,"t":2009.5,"v":29.2},{"i":45,"t":2010,"v":28.9},{"i":45,"t":2010.5,"v":28.0},{"i":45,"t":2011,"v":27.9},{"i":45,"t":2011.5,"v":27.1},{"i":45,"t":2012,"v":26.2},{"i":45,"t":2012.5,"v":26.2},{"i":45,"t":2013,"v":25.1},
      {"i":46,"t":2008,"v":31.9},{"i":46,"t":2008.5,"v":32.9},{"i":46,"t":2009,"v":32.6},{"i":46,"t":2009.5,"v":32.3},{"i":46,"t":2010,"v":31.4},{"i":46,"t":2010.5,"v":31.4},{"i":46,"t":2011,"v":30.8},{"i":46,"t":2011.5,"v":30.4},{"i":46,"t":2012,"v":29.7},{"i":46,"t":2012.5,"v":29.9},{"i":46,"t":2013,"v":29.1},
      {"i":47,"t":2008,"v":31.9},{"i":47,"t":2008.5,"v":30.4},{"i":47,"t":2009,"v":29.3},{"i":47,"t":2009.5,"v":28.3},{"i":47,"t":2010,"v":27.5},{"i":47,"t":2010.5,"v":26.8},{"i":47,"t":2011,"v":26.0},{"i":47,"t":2011.5,"v":26.3},{"i":47,"t":2012,"v":25.2},{"i":47,"t":2012.5,"v":24.3},{"i":47,"t":2013,"v":23.7},
      {"i":48,"t":2008,"v":31.9},{"i":48,"t":2008.5,"v":31.4},{"i":48,"t":2009,"v":30.8},{"i":48,"t":2009.5,"v":30.0},{"i":48,"t":2010,"v":29.8},{"i":48,"t":2010.5,"v":29.1},{"i":48,"t":2011,"v":28.4},{"i":48,"t":2011.5,"v":27.8},{"i":48,"t":2012,"v":27.4},{"i":48,"t":2012.5,"v":26.6},{"i":48,"t":2013,"v":26.4},
      {"i":49,"t":2008,"v":31.9},{"i":49,"t":2008.5,"v":32.0},{"i":49,"t":2009,"v":31.8},{"i":49,"t":2009.5,"v":31.5},{"i":49,"t":2010,"v":31.0},{"i":49,"t":2010.5,"v":30.3},{"i":49,"t":2011,"v":30.3},{"i":49,"t":2011.5,"v":29.6},{"i":49,"t":2012,"v":28.8},{"i":49,"t":2012.5,"v":28.8},{"i":49,"t":2013,"v":28.1},
      {"i":50,"t":2008,"v":31.9},{"i":50,"t":2008.5,"v":30.9},{"i":50,"t":2009,"v":30.2},{"i":50,"t":2009.5,"v":29.8},{"i":50,"t":2010,"v":28.4},{"i":50,"t":2010.5,"v":28.3},{"i":50,"t":2011,"v":27.4},{"i":50,"t":2011.5,"v":26.7},{"i":50,"t":2012,"v":26.5},{"i":50,"t":2012.5,"v":25.9},{"i":50,"t":2013,"v":25.1}
    ],
    "bandA": [
      {"b":"upper","t":2008,"v":35.2},{"b":"upper","t":2009,"v":34.3},{"b":"upper","t":2010,"v":33.4},{"b":"upper","t":2011,"v":32.3},{"b":"upper","t":2012,"v":31.2},{"b":"upper","t":2013,"v":30.1},
      {"b":"middle","t":2008,"v":35.2},{"b":"middle","t":2008.5,"v":34.4},{"b":"middle","t":2009,"v":33.7},{"b":"middle","t":2010,"v":32.2},{"b":"middle","t":2011,"v":30.8},{"b":"middle","t":2012,"v":29.5},{"b":"middle","t":2013,"v":28.3},
      {"b":"lower","t":2008,"v":35.2},{"b":"lower","t":2008.5,"v":33.5},{"b":"lower","t":2009,"v":32.5},{"b":"lower","t":2010,"v":30.8},{"b":"lower","t":2011,"v":29.2},{"b":"lower","t":2012,"v":27.7},{"b":"lower","t":2013,"v":26.4}
    ],
    "bandB": [
      {"b":"upper","t":2008,"v":31.9},{"b":"upper","t":2009,"v":31.2},{"b":"upper","t":2010,"v":30.4},{"b":"upper","t":2011,"v":29.5},{"b":"upper","t":2012,"v":28.6},{"b":"upper","t":2013,"v":27.5},
      {"b":"middle","t":2008,"v":31.9},{"b":"middle","t":2008.5,"v":31.3},{"b":"middle","t":2009,"v":30.7},{"b":"middle","t":2010,"v":29.4},{"b":"middle","t":2011,"v":28.2},{"b":"middle","t":2012,"v":27.0},{"b":"middle","t":2013,"v":25.8},
      {"b":"lower","t":2008,"v":31.9},{"b":"lower","t":2008.5,"v":30.5},{"b":"lower","t":2009,"v":29.5},{"b":"lower","t":2010,"v":27.8},{"b":"lower","t":2011,"v":26.6},{"b":"lower","t":2012,"v":25.2},{"b":"lower","t":2013,"v":24.0}
    ],
    "actA": [
      {"t":2008,"v":35.2},{"t":2009,"v":34.1},{"t":2010,"v":32.4},{"t":2011,"v":30.05},{"t":2012,"v":28.0},{"t":2013,"v":26.9}
    ],
    "actB": [
      {"t":2008,"v":31.9},{"t":2009,"v":31.65},{"t":2010,"v":29.7},{"t":2011,"v":27.75},{"t":2012,"v":25.55},{"t":2013,"v":24.1}
    ]
  },
  "hconcat": [
    {
      "width": 318, "height": 403,
      "title": {"text": "а", "orient": "bottom", "offset": 3},
      "resolve": {"axis": {"x": "independent", "y": "independent"}},
      "layer": [
        {
          "data": {"name": "simA"},
          "mark": {"type": "line", "color": "black", "strokeWidth": 1.7, "strokeDash": [1.6, 2.8], "clip": true},
          "encoding": {
            "x": {"field": "t", "type": "quantitative", "scale": {"domain": [2008, 2013], "nice": false, "zero": false},
                  "axis": {"title": "Годы", "values": [2008, 2009, 2010, 2011, 2012, 2013], "format": "d", "titlePadding": 11}},
            "y": {"field": "v", "type": "quantitative", "scale": {"domain": [22, 40], "nice": false, "zero": false},
                  "axis": {"title": "ВВП, млрд\u00a0 долл.", "values": [22, 24, 26, 28, 30, 32, 34, 36, 38, 40], "titlePadding": 10}},
            "detail": {"field": "i", "type": "nominal"}
          }
        },
        {
          "data": {"name": "bandA"},
          "mark": {"type": "line", "color": "black", "strokeWidth": 5.5, "strokeDash": [20, 22], "strokeCap": "butt"},
          "encoding": {
            "x": {"field": "t", "type": "quantitative", "axis": null},
            "y": {"field": "v", "type": "quantitative", "axis": null},
            "detail": {"field": "b", "type": "nominal"}
          }
        },
        {
          "data": {"name": "actA"},
          "mark": {"type": "line", "color": "black", "strokeWidth": 5, "point": {"filled": true, "size": 240, "color": "black"}},
          "encoding": {
            "x": {"field": "t", "type": "quantitative",
                  "axis": {"orient": "top", "labels": false, "title": null, "grid": false, "domain": false, "values": [2008, 2009, 2010, 2011, 2012, 2013]}},
            "y": {"field": "v", "type": "quantitative",
                  "axis": {"orient": "right", "labels": false, "title": null, "grid": false, "domain": false, "values": [22, 24, 26, 28, 30, 32, 34, 36, 38, 40]}}
          }
        }
      ]
    },
    {
      "width": 317, "height": 403,
      "title": {"text": "б", "orient": "bottom", "offset": 3},
      "resolve": {"axis": {"x": "independent", "y": "independent"}},
      "layer": [
        {
          "data": {"name": "simB"},
          "mark": {"type": "line", "color": "black", "strokeWidth": 1.7, "strokeDash": [1.6, 2.8], "clip": true},
          "encoding": {
            "x": {"field": "t", "type": "quantitative", "scale": {"domain": [2008, 2013], "nice": false, "zero": false},
                  "axis": {"title": "Годы", "values": [2008, 2009, 2010, 2011, 2012, 2013], "format": "d", "titlePadding": 11}},
            "y": {"field": "v", "type": "quantitative", "scale": {"domain": [20, 36], "nice": false, "zero": false},
                  "axis": {"title": "Потребление, млрд\u00a0 долл.", "values": [20, 22, 24, 26, 28, 30, 32, 34, 36], "titlePadding": 10}},
            "detail": {"field": "i", "type": "nominal"}
          }
        },
        {
          "data": {"name": "bandB"},
          "mark": {"type": "line", "color": "black", "strokeWidth": 5.5, "strokeDash": [20, 22], "strokeCap": "butt"},
          "encoding": {
            "x": {"field": "t", "type": "quantitative", "axis": null},
            "y": {"field": "v", "type": "quantitative", "axis": null},
            "detail": {"field": "b", "type": "nominal"}
          }
        },
        {
          "data": {"name": "actB"},
          "mark": {"type": "line", "color": "black", "strokeWidth": 5, "point": {"filled": true, "size": 240, "color": "black"}},
          "encoding": {
            "x": {"field": "t", "type": "quantitative",
                  "axis": {"orient": "top", "labels": false, "title": null, "grid": false, "domain": false, "values": [2008, 2009, 2010, 2011, 2012, 2013]}},
            "y": {"field": "v", "type": "quantitative",
                  "axis": {"orient": "right", "labels": false, "title": null, "grid": false, "domain": false, "values": [20, 22, 24, 26, 28, 30, 32, 34, 36]}}
          }
        }
      ]
    }
  ]
}
